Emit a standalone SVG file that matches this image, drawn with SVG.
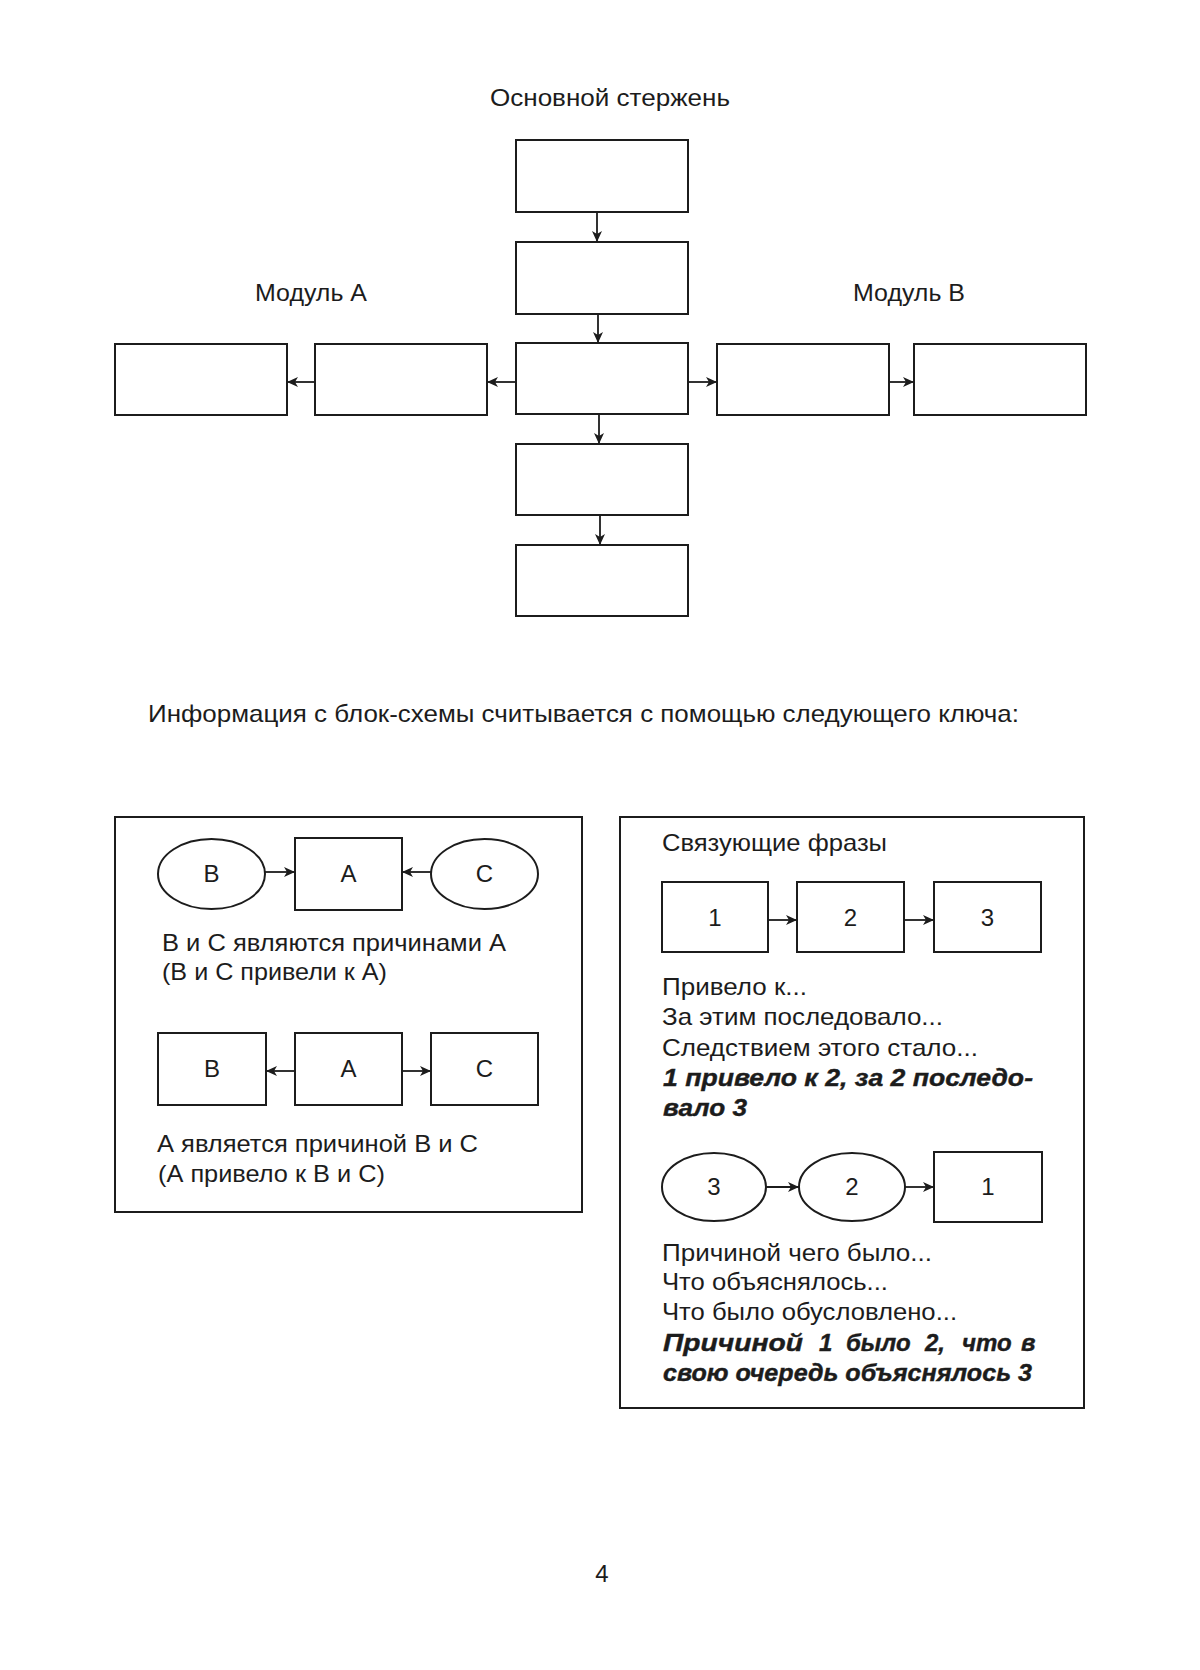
<svg xmlns="http://www.w3.org/2000/svg" width="1200" height="1670" viewBox="0 0 1200 1670">
<defs>
<style>
.bx{fill:#fff;stroke:#1c1c1c;stroke-width:2}
.fr{fill:none;stroke:#1c1c1c;stroke-width:2}
.ln{fill:none;stroke:#1c1c1c;stroke-width:1.8;marker-end:url(#ah)}
.t{font-family:"Liberation Sans",Arial,sans-serif;font-size:24px;fill:#1c1c1c}
.c{text-anchor:middle}
.bi{font-weight:bold;font-style:italic;stroke:#1c1c1c;stroke-width:0.4}
</style>
<marker id="ah" markerUnits="userSpaceOnUse" markerWidth="12" markerHeight="10" refX="11" refY="5" orient="auto">
<path d="M0,0 L11,5 L0,10 L3,5 z" fill="#1c1c1c"/>
</marker>
</defs>
<rect width="1200" height="1670" fill="#fff"/>

<text class="t c" x="610" y="106" font-size="25" textLength="240" lengthAdjust="spacingAndGlyphs">Основной стержень</text>
<text class="t" x="255" y="301" textLength="112" lengthAdjust="spacingAndGlyphs">Модуль А</text>
<text class="t" x="853" y="301" textLength="112" lengthAdjust="spacingAndGlyphs">Модуль В</text>

<g id="core1"><rect class="bx" x="516" y="140" width="172" height="72"/></g>
<g id="core2"><rect class="bx" x="516" y="242" width="172" height="72"/></g>
<g id="core3"><rect class="bx" x="516" y="343" width="172" height="71"/></g>
<g id="core4"><rect class="bx" x="516" y="444" width="172" height="71"/></g>
<g id="core5"><rect class="bx" x="516" y="545" width="172" height="71"/></g>
<g id="modA2"><rect class="bx" x="115" y="344" width="172" height="71"/></g>
<g id="modA1"><rect class="bx" x="315" y="344" width="172" height="71"/></g>
<g id="modB1"><rect class="bx" x="717" y="344" width="172" height="71"/></g>
<g id="modB2"><rect class="bx" x="914" y="344" width="172" height="71"/></g>

<text class="t" x="148" y="722" textLength="871" lengthAdjust="spacingAndGlyphs">Информация с блок-схемы считывается с помощью следующего ключа:</text>

<g id="frameLeft"><rect class="fr" x="115" y="817" width="467" height="395"/></g>
<g id="l1B"><ellipse class="bx" cx="211.5" cy="874" rx="53.5" ry="35"/><text class="t c" x="211.5" y="882">В</text></g>
<g id="l1A"><rect class="bx" x="295" y="838" width="107" height="72"/><text class="t c" x="348.5" y="882">А</text></g>
<g id="l1C"><ellipse class="bx" cx="484.5" cy="874" rx="53.5" ry="35"/><text class="t c" x="484.5" y="882">С</text></g>
<text class="t" x="162" y="951" textLength="344" lengthAdjust="spacingAndGlyphs">В и С являются причинами А</text>
<text class="t" x="162" y="980" textLength="225" lengthAdjust="spacingAndGlyphs">(В и С привели к А)</text>
<g id="l2B"><rect class="bx" x="158" y="1033" width="108" height="72"/><text class="t c" x="212" y="1077">В</text></g>
<g id="l2A"><rect class="bx" x="295" y="1033" width="107" height="72"/><text class="t c" x="348.5" y="1077">А</text></g>
<g id="l2C"><rect class="bx" x="431" y="1033" width="107" height="72"/><text class="t c" x="484.5" y="1077">С</text></g>
<text class="t" x="157" y="1152" textLength="321" lengthAdjust="spacingAndGlyphs">А является причиной В и С</text>
<text class="t" x="158" y="1182" textLength="227" lengthAdjust="spacingAndGlyphs">(А привело к В и С)</text>

<g id="frameRight"><rect class="fr" x="620" y="817" width="464" height="591"/></g>
<text class="t" x="662" y="851" textLength="225" lengthAdjust="spacingAndGlyphs">Связующие фразы</text>
<g id="r1n1"><rect class="bx" x="662" y="882" width="106" height="70"/><text class="t c" x="715" y="926">1</text></g>
<g id="r1n2"><rect class="bx" x="797" y="882" width="107" height="70"/><text class="t c" x="850.5" y="926">2</text></g>
<g id="r1n3"><rect class="bx" x="934" y="882" width="107" height="70"/><text class="t c" x="987.5" y="926">3</text></g>
<text class="t" x="662" y="995" textLength="145" lengthAdjust="spacingAndGlyphs">Привело к...</text>
<text class="t" x="662" y="1025" textLength="281" lengthAdjust="spacingAndGlyphs">За этим последовало...</text>
<text class="t" x="662" y="1056" textLength="316" lengthAdjust="spacingAndGlyphs">Следствием этого стало...</text>
<text class="t bi" x="663" y="1086" textLength="370" lengthAdjust="spacingAndGlyphs">1 привело к 2, за 2 последо-</text>
<text class="t bi" x="663" y="1116" textLength="84" lengthAdjust="spacingAndGlyphs">вало 3</text>
<g id="r2n3"><ellipse class="bx" cx="714" cy="1187" rx="52" ry="34"/><text class="t c" x="714" y="1195">3</text></g>
<g id="r2n2"><ellipse class="bx" cx="852" cy="1187" rx="53" ry="34"/><text class="t c" x="852" y="1195">2</text></g>
<g id="r2n1"><rect class="bx" x="934" y="1152" width="108" height="70"/><text class="t c" x="988" y="1195">1</text></g>
<text class="t" x="662" y="1261" textLength="270" lengthAdjust="spacingAndGlyphs">Причиной чего было...</text>
<text class="t" x="662" y="1290" textLength="226" lengthAdjust="spacingAndGlyphs">Что объяснялось...</text>
<text class="t" x="662" y="1320" textLength="295" lengthAdjust="spacingAndGlyphs">Что было обусловлено...</text>
<text class="t bi" x="663" y="1351" textLength="140" lengthAdjust="spacingAndGlyphs">Причиной</text>
<text class="t bi" x="819" y="1351">1</text>
<text class="t bi" x="846" y="1351">было</text>
<text class="t bi" x="925" y="1351">2,</text>
<text class="t bi" x="962" y="1351">что</text>
<text class="t bi" x="1021" y="1351">в</text>
<text class="t bi" x="663" y="1381" textLength="369" lengthAdjust="spacingAndGlyphs">свою очередь объяснялось 3</text>

<text class="t c" x="602" y="1582">4</text>

<g id="connectors">
<line class="ln" x1="597" y1="212" x2="597" y2="242"/>
<line class="ln" x1="598" y1="314" x2="598" y2="343"/>
<line class="ln" x1="599" y1="414" x2="599" y2="444"/>
<line class="ln" x1="600" y1="515" x2="600" y2="545"/>
<line class="ln" x1="516" y1="382" x2="487" y2="382"/>
<line class="ln" x1="315" y1="382" x2="287" y2="382"/>
<line class="ln" x1="688" y1="382" x2="717" y2="382"/>
<line class="ln" x1="889" y1="382" x2="914" y2="382"/>
<line class="ln" x1="265" y1="872" x2="295" y2="872"/>
<line class="ln" x1="431" y1="872" x2="402" y2="872"/>
<line class="ln" x1="295" y1="1071" x2="266" y2="1071"/>
<line class="ln" x1="402" y1="1071" x2="431" y2="1071"/>
<line class="ln" x1="768" y1="920" x2="797" y2="920"/>
<line class="ln" x1="904" y1="920" x2="934" y2="920"/>
<line class="ln" x1="766" y1="1187" x2="799" y2="1187"/>
<line class="ln" x1="905" y1="1187" x2="934" y2="1187"/>
</g>
</svg>
